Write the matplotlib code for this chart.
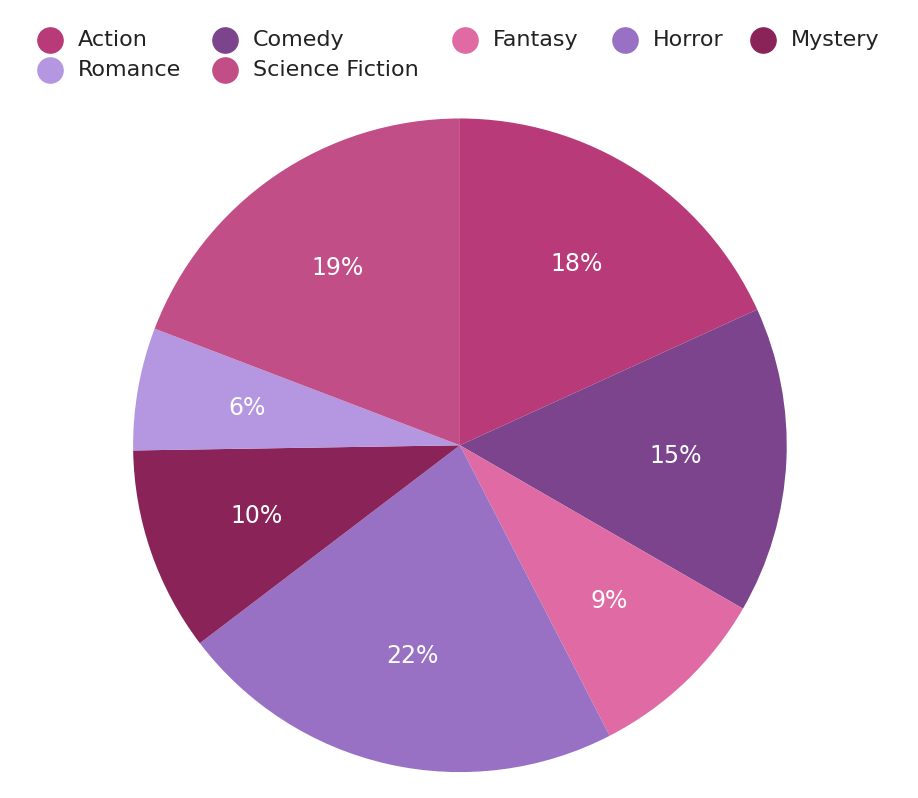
import matplotlib.pyplot as plt

genres = ["Action", "Comedy", "Fantasy", "Horror", "Mystery", "Romance", "Science Fiction"]
shares = [18, 15, 9, 22, 10, 6, 19]
colors = ["#b83a78", "#7b448c", "#e06aa4", "#9870c4", "#8a2458", "#b596e0", "#c24e88"]

# legend layout (pixel positions of the marker for each entry)
legend_pos = [(50, 40), (225, 40), (465, 40), (625, 40), (763, 40), (50, 70), (225, 70)]

fig = plt.figure(figsize=(9.18, 7.98), dpi=100)
ax = fig.add_axes([0.145, 0.032, 0.712, 0.82])
ax.pie(shares, colors=colors, startangle=90, counterclock=False,
       autopct="%d%%", pctdistance=0.66,
       textprops=dict(color="white", fontsize=17))
ax.set_xlim(-1, 1)
ax.set_ylim(-1, 1)
ax.set_aspect("equal")

lg = fig.add_axes([0, 0, 1, 1])
lg.set_xlim(0, 918)
lg.set_ylim(798, 0)
lg.axis("off")
for name, c, (x, y) in zip(genres, colors, legend_pos):
    lg.scatter([x], [y], s=330, color=c)
    lg.text(x + 28, y, name, va="center", ha="left", fontsize=16, color="#222222")

fig.savefig("out.png", dpi=100)
